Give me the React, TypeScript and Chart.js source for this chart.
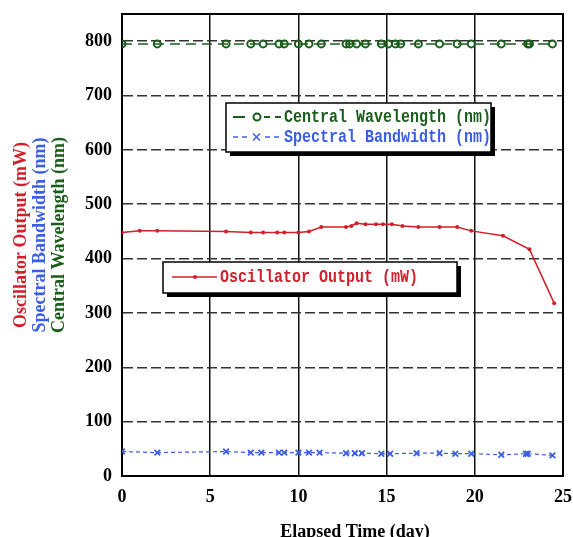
import React, { useEffect, useRef } from "react";
import { Chart, registerables } from "chart.js";

Chart.register(...registerables);

// Oscillator output (mW)
const oscDays = [0, 1, 2, 5.9, 7.3, 8, 8.8, 9.2, 10, 10.6, 11.3, 12.7, 13, 13.3, 13.8, 14.4, 14.8, 15.3, 15.9, 16.8, 18, 19, 19.8, 21.6, 23.1, 24.5];
const oscOutput = [448, 451, 451, 450, 448, 448, 448, 448, 448, 450, 458, 458, 460, 465, 463, 463, 463, 463, 460, 458, 458, 458, 451, 442, 417, 318];

// Central wavelength (nm)
const wlDays = [0, 2, 5.9, 7.3, 8, 8.9, 9.2, 10, 10.6, 11.3, 12.7, 12.9, 13.3, 13.8, 14.7, 15.1, 15.5, 15.8, 16.8, 18, 19, 19.8, 21.5, 23, 23.1, 24.4];
const wlValues = [795, 795, 795, 795, 795, 795, 795, 795, 795, 795, 795, 795, 795, 795, 795, 795, 795, 795, 795, 795, 795, 795, 795, 795, 795, 795];

// Spectral bandwidth (nm)
const bwDays = [0, 2, 5.9, 7.3, 7.9, 8.9, 9.2, 10, 10.6, 11.2, 12.7, 13.2, 13.6, 14.7, 15.2, 16.7, 18, 18.9, 19.8, 21.5, 22.9, 23, 24.4];
const bwValues = [45, 43, 45, 43, 43, 43, 43, 43, 43, 43, 42, 42, 42, 41, 41, 42, 42, 41, 41, 39, 41, 41, 38];

const xTicks = [0, 5, 10, 15, 20, 25];
const yTicks = [0, 100, 200, 300, 400, 500, 600, 700, 800];

const RED = "#d11f2b";
const BLUE = "#3b5fe3";
const GREEN = "#1b5e1b";

const toPts = (xs: number[], ys: number[]) => xs.map((x, i) => ({ x, y: ys[i] }));

const decorPlugin = {
  id: "decor",
  beforeDatasetsDraw(chart: any) {
    const { ctx, chartArea: a } = chart;
    ctx.save();
    ctx.strokeStyle = "#000";
    ctx.lineWidth = 2;
    ctx.strokeRect(a.left, a.top, a.right - a.left, a.bottom - a.top);
    ctx.restore();
  },
  afterDraw(chart: any) {
    const ctx = chart.ctx as CanvasRenderingContext2D;
    ctx.save();
    // Axis titles
    ctx.font = "bold 18px 'Liberation Serif'";
    ctx.textAlign = "center";
    ctx.textBaseline = "alphabetic";
    ctx.fillStyle = "#000";
    ctx.fillText("Elapsed Time (day)", 355, 537);

    const yTitles: [string, string, number][] = [
      ["Oscillator Output (mW)", RED, 21],
      ["Spectral Bandwidth (nm)", BLUE, 40],
      ["Central Wavelength (nm)", GREEN, 59],
    ];
    ctx.textBaseline = "middle";
    for (const [t, c, x] of yTitles) {
      ctx.save();
      ctx.translate(x, 235);
      ctx.rotate(-Math.PI / 2);
      ctx.fillStyle = c;
      ctx.fillText(t, 0, 0);
      ctx.restore();
    }

    const box = (x: number, y: number, w: number, h: number) => {
      ctx.fillStyle = "#000";
      ctx.fillRect(x + 4, y + 4, w, h);
      ctx.fillStyle = "#fff";
      ctx.fillRect(x, y, w, h);
      ctx.strokeStyle = "#000";
      ctx.lineWidth = 1.5;
      ctx.strokeRect(x, y, w, h);
    };
    const seg = (x1: number, x2: number, y: number, color: string, w = 1.5) => {
      ctx.beginPath();
      ctx.moveTo(x1, y);
      ctx.lineTo(x2, y);
      ctx.strokeStyle = color;
      ctx.lineWidth = w;
      ctx.stroke();
    };
    const text = (s: string, x: number, y: number, color: string) => {
      ctx.save();
      ctx.font = "bold 15px 'Liberation Mono'";
      ctx.textAlign = "left";
      ctx.textBaseline = "middle";
      ctx.fillStyle = color;
      ctx.translate(x, y);
      ctx.scale(1, 1.2);
      ctx.fillText(s, 0, 0);
      ctx.restore();
    };

    // Legend 1
    box(226, 103, 265, 49);
    const y1 = 117;
    seg(233, 245, y1, GREEN, 2);
    ctx.beginPath();
    ctx.arc(257, y1, 3.5, 0, Math.PI * 2);
    ctx.fillStyle = "#fff";
    ctx.fill();
    ctx.strokeStyle = GREEN;
    ctx.lineWidth = 2;
    ctx.stroke();
    seg(264, 270, y1, GREEN, 2);
    seg(275, 281, y1, GREEN, 2);
    text("Central Wavelength (nm)", 284, y1, GREEN);

    const y2 = 137;
    seg(233, 238, y2, BLUE, 1.5);
    seg(242, 247, y2, BLUE, 1.5);
    ctx.beginPath();
    ctx.moveTo(253, y2 - 3.5);
    ctx.lineTo(260, y2 + 3.5);
    ctx.moveTo(260, y2 - 3.5);
    ctx.lineTo(253, y2 + 3.5);
    ctx.strokeStyle = BLUE;
    ctx.lineWidth = 1.5;
    ctx.stroke();
    seg(265, 270, y2, BLUE, 1.5);
    seg(274, 279, y2, BLUE, 1.5);
    text("Spectral Bandwidth (nm)", 284, y2, BLUE);

    // Legend 2
    box(163, 262, 294, 31);
    const y3 = 277;
    seg(172, 217, y3, RED, 1.5);
    ctx.beginPath();
    ctx.arc(195, y3, 2, 0, Math.PI * 2);
    ctx.fillStyle = RED;
    ctx.fill();
    text("Oscillator Output (mW)", 220, y3, RED);

    ctx.restore();
  },
};

export default function App() {
  const ref = useRef<HTMLCanvasElement>(null);
  useEffect(() => {
    if (!ref.current) return;
    const tickFont = { family: "'Liberation Serif'", size: 18, weight: "bold" as const };
    const chart = new Chart(ref.current, {
      type: "line",
      data: {
        datasets: [
          {
            label: "Central Wavelength (nm)",
            data: toPts(wlDays, wlValues),
            borderColor: GREEN,
            backgroundColor: "#fff",
            borderWidth: 1.5,
            borderDash: [10, 6],
            pointStyle: "circle",
            pointRadius: 3.5,
            pointBorderWidth: 2,
            pointBorderColor: GREEN,
            pointBackgroundColor: "rgba(255,255,255,0)",
          },
          {
            label: "Spectral Bandwidth (nm)",
            data: toPts(bwDays, bwValues),
            borderColor: BLUE,
            backgroundColor: BLUE,
            borderWidth: 1.2,
            borderDash: [4, 3],
            pointStyle: "crossRot",
            pointRadius: 4,
            pointBorderWidth: 1.8,
            pointBorderColor: BLUE,
          },
          {
            label: "Oscillator Output (mW)",
            data: toPts(oscDays, oscOutput),
            borderColor: RED,
            backgroundColor: RED,
            borderWidth: 1.5,
            pointStyle: "circle",
            pointRadius: 2,
            pointBorderWidth: 0,
            pointBackgroundColor: RED,
          },
        ],
      },
      options: {
        responsive: false,
        animation: false,
        layout: { padding: { top: 14, right: 10, left: 0, bottom: 0 } },
        plugins: { legend: { display: false }, tooltip: { enabled: false } },
        scales: {
          x: {
            type: "linear",
            min: 0,
            max: 25,
            afterBuildTicks: (s: any) => {
              s.ticks = xTicks.map((v) => ({ value: v }));
            },
            afterFit: (s: any) => {
              s.height = 61;
              s.paddingLeft = 0;
              s.paddingRight = 0;
            },
            ticks: { color: "#000", font: tickFont, padding: 11 },
            grid: { color: "#111", lineWidth: 1.5, drawTicks: false },
            border: { color: "#000", width: 2 },
          },
          y: {
            type: "linear",
            min: 0,
            max: 850,
            afterBuildTicks: (s: any) => {
              s.ticks = yTicks.map((v) => ({ value: v }));
            },
            afterFit: (s: any) => {
              s.width = 122;
              s.paddingTop = 0;
              s.paddingBottom = 0;
            },
            ticks: { color: "#000", font: tickFont, padding: 10 },
            grid: { color: "#333", lineWidth: 1.5, drawTicks: false },
            border: { color: "#000", width: 2, dash: [10, 4] },
          },
        },
      },
      plugins: [decorPlugin],
    } as any);
    return () => chart.destroy();
  }, []);
  return (
    <canvas
      ref={ref}
      width={573}
      height={537}
      style={{ position: "absolute", left: 0, top: 0, display: "block", background: "#fff" }}
    />
  );
}
